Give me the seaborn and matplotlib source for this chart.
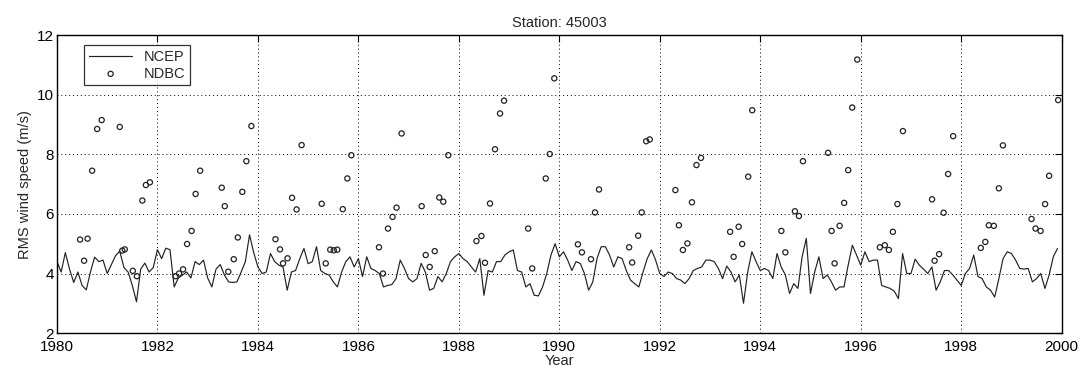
import numpy as np
import pandas as pd
import matplotlib
matplotlib.use("Agg")
import matplotlib.pyplot as plt
import seaborn as sns

# =============================
# Dados
# =============================
anos = list(range(1980, 2000))

# NCEP: media mensal, 12 valores por ano
ncep_1980 = [4.40, 4.05, 4.70, 4.15, 3.70, 4.05, 3.60, 3.45, 4.05, 4.55, 4.40, 4.45]
ncep_1981 = [4.00, 4.30, 4.60, 4.75, 4.20, 4.05, 3.60, 3.05, 4.15, 4.35, 4.05, 4.20]
ncep_1982 = [4.80, 4.50, 4.85, 4.80, 3.55, 3.85, 3.95, 4.05, 3.85, 4.40, 4.30, 4.45]
ncep_1983 = [3.85, 3.55, 4.15, 4.30, 3.95, 3.72, 3.70, 3.72, 4.05, 4.40, 5.30, 4.70]
ncep_1984 = [4.22, 4.00, 4.05, 4.67, 4.40, 4.28, 4.22, 3.44, 4.05, 4.10, 4.50, 4.84]
ncep_1985 = [4.33, 4.40, 4.90, 4.10, 4.00, 3.95, 3.72, 3.55, 4.05, 4.40, 4.56, 4.22]
ncep_1986 = [4.50, 3.90, 4.56, 4.17, 4.10, 4.00, 3.55, 3.60, 3.63, 3.83, 4.45, 4.17]
ncep_1987 = [3.83, 3.72, 3.83, 4.34, 4.05, 3.44, 3.50, 3.90, 3.72, 4.00, 4.40, 4.56]
ncep_1988 = [4.67, 4.50, 4.40, 4.22, 4.05, 4.50, 3.27, 4.10, 4.05, 4.40, 4.40, 4.62]
ncep_1989 = [4.73, 4.79, 4.10, 4.05, 3.55, 3.66, 3.27, 3.25, 3.55, 4.00, 4.62, 5.00]
ncep_1990 = [4.56, 4.73, 4.45, 4.10, 4.40, 4.34, 4.00, 3.44, 3.72, 4.50, 4.90, 4.90]
ncep_1991 = [4.62, 4.22, 4.56, 4.50, 4.10, 3.78, 3.66, 3.55, 4.05, 4.50, 4.79, 4.45]
ncep_1992 = [4.00, 3.90, 4.05, 4.00, 3.83, 3.78, 3.66, 3.83, 4.10, 4.17, 4.22, 4.45]
ncep_1993 = [4.45, 4.40, 4.17, 3.83, 4.25, 4.05, 3.72, 3.95, 3.00, 4.05, 4.73, 4.40]
ncep_1994 = [4.10, 4.17, 4.10, 3.83, 4.67, 4.22, 3.95, 3.33, 3.66, 3.50, 4.56, 5.18]
ncep_1995 = [3.33, 4.05, 4.56, 3.83, 3.95, 3.72, 3.44, 3.55, 3.55, 4.28, 4.95, 4.62]
ncep_1996 = [4.28, 4.73, 4.40, 4.45, 4.45, 3.60, 3.55, 3.50, 3.41, 3.16, 4.67, 4.00]
ncep_1997 = [4.00, 4.48, 4.28, 4.15, 4.00, 4.22, 3.44, 3.72, 4.10, 4.10, 3.95, 3.78]
ncep_1998 = [3.60, 4.00, 4.17, 4.62, 3.90, 3.83, 3.55, 3.44, 3.21, 3.83, 4.50, 4.73]
ncep_1999 = [4.67, 4.45, 4.17, 4.15, 4.17, 3.72, 3.83, 4.00, 3.50, 3.95, 4.56, 4.84]

ncep_valores = (ncep_1980 + ncep_1981 + ncep_1982 + ncep_1983 + ncep_1984 +
                ncep_1985 + ncep_1986 + ncep_1987 + ncep_1988 + ncep_1989 +
                ncep_1990 + ncep_1991 + ncep_1992 + ncep_1993 + ncep_1994 +
                ncep_1995 + ncep_1996 + ncep_1997 + ncep_1998 + ncep_1999)

# NDBC: pontos (ano decimal, velocidade)
ndbc_ano = [
    1980.46, 1980.54, 1980.61, 1980.70, 1980.80, 1980.89,
    1981.25, 1981.30, 1981.35, 1981.51, 1981.59, 1981.70, 1981.77, 1981.85,
    1982.36, 1982.43, 1982.51, 1982.59, 1982.68, 1982.76, 1982.85,
    1983.28, 1983.34, 1983.41, 1983.52, 1983.60, 1983.69, 1983.77, 1983.87,
    1984.35, 1984.44, 1984.50, 1984.59, 1984.68, 1984.77, 1984.87,
    1985.27, 1985.35, 1985.44, 1985.51, 1985.58, 1985.69, 1985.78, 1985.86,
    1986.41, 1986.49, 1986.59, 1986.68, 1986.76, 1986.86,
    1987.26, 1987.34, 1987.42, 1987.52, 1987.61, 1987.69, 1987.79,
    1988.35, 1988.45, 1988.52, 1988.62, 1988.72, 1988.82, 1988.90,
    1989.38, 1989.46, 1989.73, 1989.81, 1989.90,
    1990.37, 1990.45, 1990.63, 1990.71, 1990.79,
    1991.39, 1991.45, 1991.57, 1991.64, 1991.73, 1991.80,
    1992.31, 1992.38, 1992.46, 1992.55, 1992.64, 1992.73, 1992.82,
    1993.40, 1993.47, 1993.57, 1993.64, 1993.76, 1993.84,
    1994.42, 1994.50, 1994.69, 1994.77, 1994.85,
    1995.35, 1995.42, 1995.48, 1995.58, 1995.67, 1995.75, 1995.83, 1995.93,
    1996.38, 1996.48, 1996.56, 1996.64, 1996.73, 1996.84,
    1997.42, 1997.47, 1997.56, 1997.65, 1997.74, 1997.84,
    1998.39, 1998.48, 1998.55, 1998.65, 1998.75, 1998.83,
    1999.40, 1999.48, 1999.58, 1999.67, 1999.75, 1999.93,
]
ndbc_valores = [
    5.14, 4.43, 5.17, 7.45, 8.85, 9.15,
    8.92, 4.77, 4.81, 4.09, 3.91, 6.45, 6.97, 7.06,
    3.91, 4.00, 4.14, 4.99, 5.43, 6.67, 7.45,
    6.88, 6.26, 4.06, 4.48, 5.21, 6.74, 7.77, 8.95,
    5.15, 4.81, 4.34, 4.51, 6.54, 6.15, 8.31,
    6.34, 4.34, 4.80, 4.78, 4.80, 6.16, 7.19, 7.97,
    4.88, 4.00, 5.51, 5.90, 6.21, 8.70,
    6.26, 4.62, 4.22, 4.75, 6.55, 6.41, 7.97,
    5.09, 5.26, 4.36, 6.35, 8.17, 9.37, 9.80,
    5.51, 4.17, 7.19, 8.01, 10.55,
    4.98, 4.71, 4.48, 6.05, 6.82,
    4.88, 4.37, 5.27, 6.05, 8.44, 8.50,
    6.80, 5.62, 4.79, 5.01, 6.39, 7.64, 7.88,
    5.40, 4.56, 5.57, 4.99, 7.25, 9.48,
    5.43, 4.71, 6.09, 5.93, 7.77,
    8.05, 5.43, 4.34, 5.60, 6.37, 7.47, 9.57, 11.18,
    4.88, 4.95, 4.79, 5.40, 6.33, 8.78,
    6.49, 4.43, 4.65, 6.04, 7.34, 8.61,
    4.86, 5.06, 5.62, 5.60, 6.86, 8.30,
    5.83, 5.51, 5.43, 6.33, 7.28, 9.82,
]

x_ticks = list(range(1980, 2001, 2))
y_ticks = list(range(2, 13, 2))

# eixo de tempo mensal para o NCEP
ncep_tempo = [a + m / 12 for a in anos for m in range(12)]
df_ncep = pd.DataFrame({"ano": ncep_tempo, "vel": ncep_valores})
df_ndbc = pd.DataFrame({"ano": ndbc_ano, "vel": ndbc_valores})

# =============================
# Grafico
# =============================
sns.set_theme(style="white")
plt.rcParams["font.family"] = ["Liberation Sans", "DejaVu Sans"]

fig = plt.figure(figsize=(10.85, 3.86), dpi=100)
ax = fig.add_axes([0.0525, 0.137, 0.926, 0.772])

sns.lineplot(data=df_ncep, x="ano", y="vel", ax=ax, color="#222222",
             linewidth=0.85, label="NCEP")
sns.scatterplot(data=df_ndbc, x="ano", y="vel", ax=ax, marker="o", s=14,
                facecolor="none", edgecolor="#222222", linewidth=0.9,
                label="NDBC")

ax.set_xlim(1980, 2000)
ax.set_ylim(2, 12)
ax.set_xticks(x_ticks)
ax.set_yticks(y_ticks)
ax.grid(True, linestyle=(0, (1, 3)), color="black", linewidth=0.7)
ax.tick_params(direction="in", length=5, width=0.8, top=True, right=True,
               labelsize=11, colors="black")
ax.tick_params(axis="x", pad=5)
ax.tick_params(axis="y", pad=2)
for s in ax.spines.values():
    s.set_color("black")
    s.set_linewidth(1.0)

ax.set_title("Station: 45003", fontsize=10.5, pad=6)
ax.set_xlabel("Year", fontsize=10.5, labelpad=0)
ax.set_ylabel("RMS wind speed (m/s)", fontsize=10.5, labelpad=4)

leg = ax.legend(loc="upper left", bbox_to_anchor=(0.02, 0.99), fontsize=10.5,
                frameon=True, fancybox=False, edgecolor="black",
                handlelength=3.0, borderpad=0.3, labelspacing=0.2,
                handletextpad=0.8)
leg.get_frame().set_linewidth(0.9)

fig.savefig("out.png", dpi=100)
